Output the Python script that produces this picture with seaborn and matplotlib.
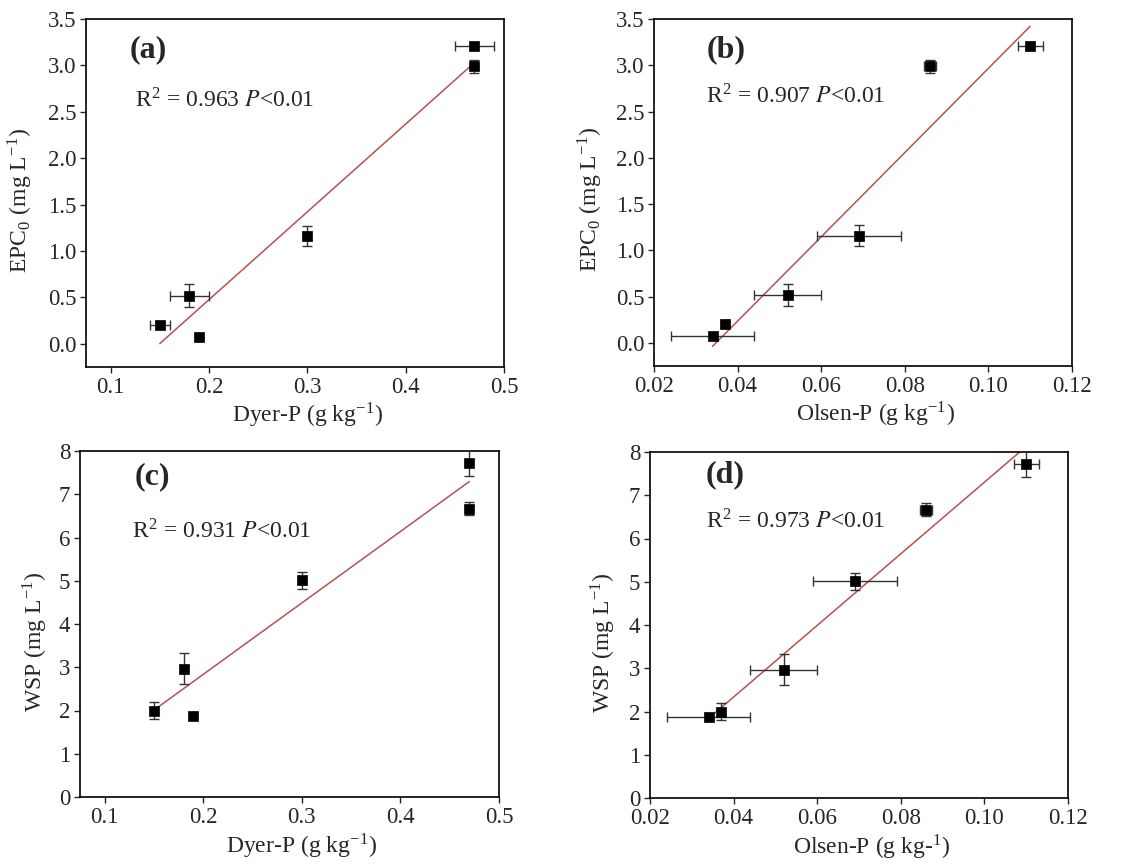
import matplotlib
matplotlib.use("Agg")
import matplotlib.pyplot as plt
import seaborn as sns
import numpy as np
import pandas as pd

# ---- data (six soil samples) ----
dyer_p   = [0.19, 0.15, 0.18, 0.30, 0.47, 0.47]
dyer_err = [0.0, 0.01, 0.02, 0.0, 0.0, 0.02]
olsen_p  = [0.034, 0.037, 0.052, 0.069, 0.086, 0.110]
olsen_err = [0.010, 0.0, 0.008, 0.010, 0.0015, 0.003]
epc0     = [0.07, 0.20, 0.52, 1.16, 2.99, 3.21]
epc0_err = [0.0, 0.03, 0.12, 0.11, 0.07, 0.0]
wsp      = [1.88, 2.00, 2.97, 5.01, 6.67, 7.73]
wsp_err  = [0.0, 0.20, 0.35, 0.20, 0.15, 0.30]

panel_labels = ["(a)", "(b)", "(c)", "(d)"]
r2_texts = ["0.963", "0.907", "0.931", "0.973"]

df = pd.DataFrame({"dyer": dyer_p, "dyer_err": dyer_err,
                   "olsen": olsen_p, "olsen_err": olsen_err,
                   "epc0": epc0, "epc0_err": epc0_err,
                   "wsp": wsp, "wsp_err": wsp_err})

sns.set_theme(style="ticks")
plt.rcParams["font.family"] = ["Liberation Serif", "DejaVu Serif"]
plt.rcParams["mathtext.fontset"] = "stix"

fig = plt.figure(figsize=(11.48, 8.68), dpi=100)
W, H = 1148, 868
boxes = [(86, 19, 504, 367), (654, 19, 1072, 366),
         (80, 451, 499, 797), (650, 452, 1068, 798)]
axes = [fig.add_axes([l / W, 1 - b / H, (r - l) / W, (b - t) / H]) for (l, t, r, b) in boxes]

specs = [
    ("dyer", "dyer_err", "epc0", "epc0_err"),
    ("olsen", "olsen_err", "epc0", "epc0_err"),
    ("dyer", None, "wsp", "wsp_err"),
    ("olsen", "olsen_err", "wsp", "wsp_err"),
]
xlabels = [r"Dyer-P (g kg$^{\mathregular{-1}}$)", r"Olsen-P (g kg$^{\mathregular{-1}}$)",
           r"Dyer-P (g kg$^{\mathregular{-1}}$)", r"Olsen-P (g kg-$^{\mathregular{1}}$)"]
ylabels = [r"EPC$_{\mathregular{0}}$ (mg L$^{\mathregular{-1}}$)", r"EPC$_{\mathregular{0}}$ (mg L$^{\mathregular{-1}}$)",
           r"WSP (mg L$^{\mathregular{-1}}$)", r"WSP (mg L$^{\mathregular{-1}}$)"]
ylabel_pos = [(-0.122, 0.48), (-0.117, 0.48), (-0.072, 0.45), (-0.077, 0.45)]
xlabel_pos = [(0.53, -0.097), (0.53, -0.097), (0.53, -0.10), (0.53, -0.10)]
label_pos = [(0.105, 0.912), (0.125, 0.912), (0.130, 0.925), (0.134, 0.935)]
r2_pos = [(0.117, 0.767), (0.124, 0.776), (0.124, 0.768), (0.134, 0.80)]

line_color = "#b5524f"
for i, (ax, (xc, xe, yc, ye)) in enumerate(zip(axes, specs)):
    sns.regplot(data=df, x=xc, y=yc, ax=ax, ci=None, truncate=True,
                scatter=False, line_kws=dict(color=line_color, lw=1.1))
    xerr = df[xe] if xe else None
    ax.errorbar(df[xc], df[yc], xerr=xerr, yerr=df[ye], fmt="none",
                ecolor="#333333", elinewidth=1.0, capsize=3.5, capthick=1.0, zorder=3)
    sns.scatterplot(data=df, x=xc, y=yc, ax=ax, marker="s", s=62, color="black",
                    edgecolor="black", linewidth=0.5, zorder=4)
    if xc == "dyer":
        ax.set_xlim(0.075, 0.5)
        ax.set_xticks([0.1, 0.2, 0.3, 0.4, 0.5])
        ax.set_xticklabels(["0.1", "0.2", "0.3", "0.4", "0.5"])
    else:
        ax.set_xlim(0.02, 0.12)
        ax.set_xticks([0.02, 0.04, 0.06, 0.08, 0.10, 0.12])
        ax.set_xticklabels(["0.02", "0.04", "0.06", "0.08", "0.10", "0.12"])
    if yc == "epc0":
        ax.set_ylim(-0.25, 3.5)
        ax.set_yticks(np.arange(0, 3.51, 0.5))
        ax.set_yticklabels([f"{v:.1f}" for v in np.arange(0, 3.51, 0.5)])
    else:
        ax.set_ylim(0, 8)
        ax.set_yticks(range(0, 9))
    ax.set_xlabel(xlabels[i], fontsize=17)
    ax.xaxis.set_label_coords(*xlabel_pos[i])
    ax.set_ylabel(ylabels[i], fontsize=17)
    ax.yaxis.set_label_coords(*ylabel_pos[i])
    ax.tick_params(direction="out", length=4, width=1, labelsize=16.5, pad=3)
    for s in ax.spines.values():
        s.set_visible(True)
        s.set_linewidth(1.2)
        s.set_color("black")
    ax.text(label_pos[i][0], label_pos[i][1], panel_labels[i], transform=ax.transAxes,
            fontsize=23, fontweight="bold", va="center", ha="left")
    ax.text(r2_pos[i][0], r2_pos[i][1],
            r"R$^{\mathregular{2}}$ = " + r2_texts[i] + r" $\mathit{P}$<0.01",
            transform=ax.transAxes, fontsize=17, va="center", ha="left")

fig.savefig("out.png", dpi=100)
